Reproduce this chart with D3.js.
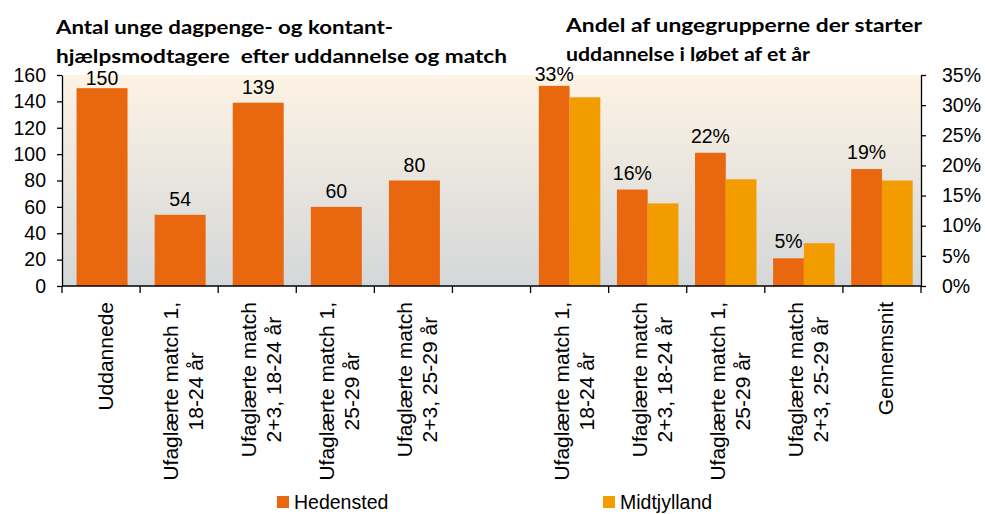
<!DOCTYPE html>
<html>
<head>
<meta charset="utf-8">
<script src="https://cdn.jsdelivr.net/npm/d3@7"></script>
<style>
  body { margin: 0; background: #fff; }
  svg { display: block; }
  text { font-family: "Liberation Sans", Arial, sans-serif; fill: #000; }
</style>
</head>
<body>
<div id="chart"></div>
<script>
// -------------------------------
// Data
// -------------------------------
const leftCategories = [
  ["Uddannede"],
  ["Ufaglærte match 1,", "18-24 år"],
  ["Ufaglærte match", "2+3, 18-24 år"],
  ["Ufaglærte match 1,", "25-29 år"],
  ["Ufaglærte match", "2+3, 25-29 år"]
];
const antalHedensted = [150, 54, 139, 60, 80];

const rightCategories = [
  ["Ufaglærte match 1,", "18-24 år"],
  ["Ufaglærte match", "2+3, 18-24 år"],
  ["Ufaglærte match 1,", "25-29 år"],
  ["Ufaglærte match", "2+3, 25-29 år"],
  ["Gennemsnit"]
];
const andelHedensted = [33.2, 16.0, 22.1, 4.6, 19.4];
const andelMidtjylland = [31.3, 13.7, 17.7, 7.1, 17.5];

const seriesNames = ["Hedensted", "Midtjylland"];
const leftTicks = [0, 20, 40, 60, 80, 100, 120, 140, 160];
const rightTicks = [0, 5, 10, 15, 20, 25, 30, 35];

const leftTitle = ["Antal unge dagpenge- og kontant-", "hjælpsmodtagere  efter uddannelse og match"];
const rightTitle = ["Andel af ungegrupperne der starter", "uddannelse i løbet af et år"];

// -------------------------------
// Layout
// -------------------------------
const width = 985, height = 514;
const plot = { left: 62, right: 921, top: 75, bottom: 286 };
const colors = { Hedensted: "#e8670f", Midtjylland: "#f39c00" };

const svg = d3.select("#chart").append("svg")
  .attr("width", width)
  .attr("height", height);

// category slots: 5 left, 1 empty, 5 right
const allCats = leftCategories.concat([[""]], rightCategories);
const slots = d3.range(allCats.length);

const x = d3.scaleBand().domain(slots).range([plot.left, plot.right]).padding(0);
const yLeft = d3.scaleLinear().domain([0, 160]).range([plot.bottom, plot.top]);
const yRight = d3.scaleLinear().domain([0, 35]).range([plot.bottom, plot.top]);

// background gradient
const grad = svg.append("defs").append("linearGradient")
  .attr("id", "bg").attr("x1", 0).attr("y1", 0).attr("x2", 0).attr("y2", 1);
grad.append("stop").attr("offset", "0%").attr("stop-color", "#fdf3e4");
grad.append("stop").attr("offset", "100%").attr("stop-color", "#d4d7d9");

svg.append("rect")
  .attr("x", plot.left).attr("y", plot.top)
  .attr("width", plot.right - plot.left)
  .attr("height", plot.bottom - plot.top)
  .attr("fill", "url(#bg)");

// -------------------------------
// Left bars (antal)
// -------------------------------
const xLeftInner = d3.scaleBand().domain([0]).range([0, x.bandwidth()]).padding(0.21);

svg.append("g").selectAll("rect")
  .data(antalHedensted)
  .join("rect")
  .attr("x", (d, i) => x(i) + xLeftInner(0) + 1)
  .attr("y", d => yLeft(d))
  .attr("width", xLeftInner.bandwidth())
  .attr("height", d => yLeft(0) - yLeft(d))
  .attr("fill", colors.Hedensted);

svg.append("g").selectAll("text")
  .data(antalHedensted)
  .join("text")
  .attr("x", (d, i) => x(i) + xLeftInner(0) + 1 + xLeftInner.bandwidth() / 2)
  .attr("y", d => Math.max(yLeft(d) - 9, 85))
  .attr("text-anchor", "middle")
  .style("font-size", "19.5px")
  .text(d => d);

// -------------------------------
// Right bars (andel)
// -------------------------------
const offset = leftCategories.length + 1;
const xRightInner = d3.scaleBand().domain(seriesNames).range([0, x.bandwidth()])
  .paddingInner(0).paddingOuter(0.27);

const rightRows = rightCategories.map((c, i) => ({
  slot: offset + i,
  Hedensted: andelHedensted[i],
  Midtjylland: andelMidtjylland[i]
}));

svg.append("g").selectAll("g")
  .data(rightRows)
  .join("g")
  .attr("transform", d => `translate(${x(d.slot)},0)`)
  .selectAll("rect")
  .data(d => seriesNames.map(s => ({ s, v: d[s] })))
  .join("rect")
  .attr("x", d => xRightInner(d.s))
  .attr("y", d => yRight(d.v))
  .attr("width", xRightInner.bandwidth())
  .attr("height", d => yRight(0) - yRight(d.v))
  .attr("fill", d => colors[d.s]);

svg.append("g").selectAll("text")
  .data(rightRows)
  .join("text")
  .attr("x", d => x(d.slot) + xRightInner("Hedensted") + xRightInner.bandwidth() / 2)
  .attr("y", d => Math.max(yRight(d.Hedensted) - 10, 81))
  .attr("text-anchor", "middle")
  .style("font-size", "19.5px")
  .text(d => Math.round(d.Hedensted) + "%");

// -------------------------------
// Axes
// -------------------------------
const axisLeft = svg.append("g")
  .attr("transform", `translate(${plot.left},0)`)
  .call(d3.axisLeft(yLeft).tickValues(leftTicks).tickSize(5).tickPadding(11).tickSizeOuter(0));

const axisRight = svg.append("g")
  .attr("transform", `translate(${plot.right},0)`)
  .call(d3.axisRight(yRight).tickValues(rightTicks).tickSize(5).tickPadding(16).tickSizeOuter(0)
    .tickFormat(d => d + "%"));

const boundaries = d3.range(allCats.length + 1).map(i => plot.left + i * x.step());
const axisBottom = svg.append("g");
axisBottom.append("line")
  .attr("x1", plot.left).attr("x2", plot.right)
  .attr("y1", plot.bottom).attr("y2", plot.bottom);
axisBottom.selectAll("line.tick")
  .data(boundaries)
  .join("line")
  .attr("class", "tick")
  .attr("x1", d => d).attr("x2", d => d)
  .attr("y1", plot.bottom).attr("y2", plot.bottom + 7);

[axisLeft, axisRight].forEach(a => {
  a.select(".domain").attr("stroke", "#000").attr("stroke-width", 1.3);
  a.selectAll(".tick line").attr("stroke", "#000").attr("stroke-width", 1.3);
  a.selectAll(".tick text")
    .style("font-size", "19.5px")
    .style("font-family", "'Liberation Sans', Arial, sans-serif")
    .attr("fill", "#000");
});
axisBottom.selectAll("line").attr("stroke", "#000").attr("stroke-width", 1.3);

// category labels, rotated
const labelSize = 21, lineH = 25, capH = 0.716 * labelSize;
const labelGroups = svg.append("g").selectAll("g")
  .data(allCats)
  .join("g")
  .attr("transform", (d, i) => `translate(${x(i) + x.bandwidth() / 2 + 4},302) rotate(-90)`);

labelGroups.each(function (lines) {
  const g = d3.select(this);
  const texts = g.selectAll("text")
    .data(lines)
    .join("text")
    .attr("text-anchor", "middle")
    .attr("y", (d, i) => capH / 2 + (i - (lines.length - 1) / 2) * lineH)
    .style("font-size", labelSize + "px")
    .text(d => d);
  const w = d3.max(texts.nodes(), n => n.getComputedTextLength());
  texts.attr("x", -w / 2);
});

// -------------------------------
// Titles
// -------------------------------
function drawTitle(lines, x0, y0, widths) {
  svg.append("g").selectAll("text")
    .data(lines)
    .join("text")
    .attr("x", x0)
    .attr("y", (d, i) => y0 + i * 29)
    .attr("textLength", (d, i) => widths[i])
    .attr("lengthAdjust", "spacingAndGlyphs")
    .style("font-family", "Lato, 'Open Sans', sans-serif")
    .style("font-weight", "bold")
    .style("font-size", "19.5px")
    .style("white-space", "pre")
    .text(d => d);
}
drawTitle(leftTitle, 56, 34, [337, 451]);
drawTitle(rightTitle, 566, 32, [356, 244]);

// -------------------------------
// Legend
// -------------------------------
const legendPos = [{ name: "Hedensted", x: 277 }, { name: "Midtjylland", x: 603 }];
const legend = svg.append("g").selectAll("g")
  .data(legendPos)
  .join("g")
  .attr("transform", d => `translate(${d.x},496)`);
legend.append("rect")
  .attr("width", 12).attr("height", 12)
  .attr("fill", d => colors[d.name]);
legend.append("text")
  .attr("x", 17).attr("y", 13)
  .style("font-size", "19.5px")
  .text(d => d.name);
</script>
</body>
</html>
